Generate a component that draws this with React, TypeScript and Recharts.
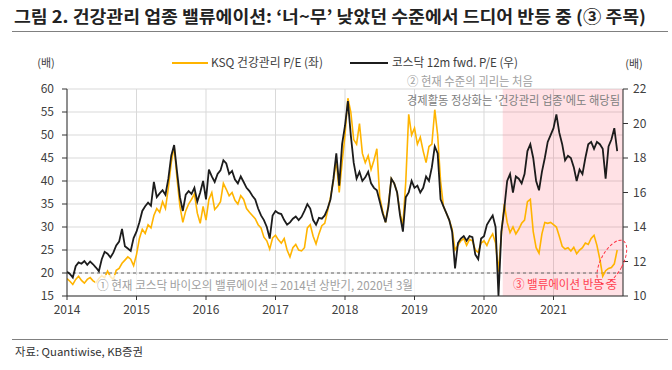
import React from "react";
import {
  LineChart,
  Line,
  XAxis,
  YAxis,
  CartesianGrid,
  ReferenceLine,
  ReferenceArea,
  ReferenceDot,
} from "recharts";

// Half-monthly readings, KSQ health care P/E (left axis)
const ksq2014 = [18.8, 18.2, 17.5, 18.6, 19.3, 18.4, 17.8, 18.6, 19.0, 18.3, 17.9, 18.8, 19.4, 19.0, 20.4, 19.2, 18.6, 20.6, 21.0, 22.1, 22.8, 23.5, 23.0, 21.6];
const ksq2015 = [24.0, 27.5, 29.5, 28.6, 30.5, 29.8, 32.5, 34.0, 33.2, 35.5, 34.0, 38.5, 44.0, 47.5, 40.5, 34.5, 31.0, 33.5, 35.0, 36.0, 37.2, 33.0, 30.8, 34.5];
const ksq2016 = [31.5, 36.0, 37.5, 33.8, 34.5, 35.5, 39.5, 38.2, 36.8, 37.5, 35.8, 35.0, 36.8, 36.0, 34.0, 33.2, 32.5, 31.8, 30.5, 29.8, 27.8, 27.0, 25.2, 27.6];
const ksq2017 = [28.2, 27.2, 26.5, 27.5, 25.0, 23.5, 25.5, 26.2, 25.0, 24.8, 25.5, 29.8, 30.5, 28.0, 26.3, 28.5, 30.3, 30.8, 33.5, 36.5, 40.0, 44.5, 37.5, 44.0];
const ksq2018 = [50.0, 58.0, 55.0, 49.0, 48.0, 52.5, 46.0, 44.0, 45.5, 42.5, 44.5, 47.0, 36.5, 33.5, 31.0, 35.0, 40.5, 39.5, 37.5, 33.0, 30.5, 40.0, 54.5, 50.0];
const ksq2019 = [51.5, 48.0, 49.5, 46.5, 44.0, 47.5, 48.0, 55.5, 50.0, 40.0, 34.5, 33.0, 31.5, 29.5, 25.0, 26.0, 27.0, 27.5, 26.0, 27.3, 27.0, 25.0, 24.5, 26.5];
const ksq2020 = [27.0, 26.0, 27.5, 28.5, 26.5, 20.3, 28.5, 35.0, 31.0, 28.8, 30.0, 28.5, 29.5, 30.8, 31.5, 35.5, 36.0, 29.0, 25.5, 24.3, 28.5, 31.0, 30.8, 31.0];
const ksq2021 = [30.5, 30.0, 28.0, 25.8, 25.2, 25.5, 24.8, 25.6, 24.2, 25.0, 25.5, 26.5, 26.2, 27.5, 28.2, 26.0, 23.0, 19.3, 20.5, 21.0, 21.2, 22.0, 25.0];

// Half-monthly readings, KOSDAQ 12m fwd P/E (right axis)
const kq2014 = [11.41, 11.28, 11.07, 11.73, 11.95, 11.87, 12.03, 11.81, 12.0, 11.84, 11.65, 11.44, 12.13, 12.56, 12.45, 12.24, 12.51, 12.93, 13.15, 13.89, 12.88, 12.75, 12.61, 13.36];
const kq2015 = [13.73, 14.27, 14.93, 15.2, 15.41, 15.23, 16.61, 15.73, 15.95, 16.13, 15.87, 16.8, 18.13, 18.75, 17.2, 15.73, 14.93, 15.87, 16.08, 15.92, 16.27, 15.47, 16.0, 16.67];
const kq2016 = [15.6, 17.33, 16.93, 16.61, 17.07, 17.28, 17.87, 17.68, 17.07, 17.25, 16.75, 16.53, 16.93, 16.61, 16.27, 16.08, 15.81, 15.6, 15.07, 14.67, 14.4, 14.0, 13.33, 14.67];
const kq2017 = [14.93, 14.8, 14.75, 14.4, 14.13, 14.27, 14.48, 14.61, 14.4, 14.59, 14.93, 15.33, 15.07, 14.4, 14.13, 14.53, 14.48, 14.67, 15.07, 15.6, 16.8, 18.27, 16.4, 18.8];
const kq2018 = [19.87, 21.3, 19.33, 17.73, 16.8, 17.2, 16.67, 16.88, 17.2, 16.53, 16.27, 16.13, 15.47, 14.8, 14.27, 15.2, 16.8, 16.53, 16.0, 14.67, 13.73, 15.73, 16.0, 16.67];
const kq2019 = [16.27, 16.4, 16.0, 16.27, 16.93, 16.67, 17.47, 18.67, 18.27, 15.6, 15.2, 14.8, 14.4, 13.73, 11.6, 13.07, 13.33, 13.47, 13.2, 13.47, 13.41, 12.4, 12.13, 13.33];
const kq2020 = [13.47, 14.13, 14.4, 14.67, 14.0, 10.0, 13.73, 15.07, 16.67, 17.07, 16.0, 16.93, 16.8, 16.53, 17.07, 18.4, 18.8, 18.0, 16.67, 16.13, 17.2, 18.0, 18.93, 19.33];
const kq2021 = [19.73, 20.53, 19.47, 18.8, 17.87, 18.13, 18.0, 17.47, 16.67, 17.33, 17.07, 18.0, 18.8, 18.93, 18.53, 18.93, 18.8, 18.53, 16.8, 18.67, 19.07, 19.73, 18.4];

const years = [2014, 2015, 2016, 2017, 2018, 2019, 2020, 2021];
const ksqByYear = [ksq2014, ksq2015, ksq2016, ksq2017, ksq2018, ksq2019, ksq2020, ksq2021];
const kqByYear = [kq2014, kq2015, kq2016, kq2017, kq2018, kq2019, kq2020, kq2021];
const leftTicks = [15, 20, 25, 30, 35, 40, 45, 50, 55, 60];
const rightTicks = [10, 12, 14, 16, 18, 20, 22];

const data: { t: number; ksq: number; kq: number }[] = [];
years.forEach((y, yi) => {
  ksqByYear[yi].forEach((v, k) => {
    data.push({ t: y + k / 24, ksq: v, kq: kqByYear[yi][k] });
  });
});

const FONT = "'Noto Sans CJK KR', 'Noto Sans', sans-serif";

const EllipseShape = (props: any) => {
  const { cx, cy } = props;
  if (cx == null || cy == null) return null;
  return (
    <ellipse
      cx={cx}
      cy={cy}
      rx={11}
      ry={24}
      transform={`rotate(28 ${cx} ${cy})`}
      fill="none"
      stroke="#ff3040"
      strokeWidth={1}
      strokeDasharray="3 2"
    />
  );
};

export default function App() {
  return (
    <div
      style={{
        position: "absolute",
        left: 0,
        top: 0,
        width: 672,
        height: 370,
        background: "#fff",
        fontFamily: FONT,
      }}
    >
      <LineChart
        width={672}
        height={370}
        data={data}
        margin={{ top: 89, right: 9, bottom: 44, left: 27 }}
      >
        <CartesianGrid stroke="#d9d9d9" strokeWidth={1} yAxisId="left" />
        <ReferenceArea
          yAxisId="left"
          x1={2020.27}
          x2={2022}
          y1={15}
          y2={60}
          fill="#ff5a6e"
          fillOpacity={0.18}
          stroke="none"
          ifOverflow="visible"
        />
        <XAxis
          dataKey="t"
          type="number"
          domain={[2014, 2022]}
          ticks={years}
          allowDataOverflow
          height={30}
          tickSize={4}
          tickMargin={5}
          stroke="#333"
          tick={{ fontSize: 12, fill: "#404040" }}
        />
        <YAxis
          yAxisId="left"
          domain={[15, 60]}
          ticks={leftTicks}
          width={40}
          tickSize={5}
          tickMargin={8}
          stroke="#333"
          tick={{ fontSize: 12, fill: "#404040" }}
        />
        <YAxis
          yAxisId="right"
          orientation="right"
          domain={[10, 22]}
          ticks={rightTicks}
          width={40}
          tickSize={5}
          tickMargin={5}
          stroke="#333"
          tick={{ fontSize: 12, fill: "#404040" }}
        />
        <ReferenceLine
          yAxisId="left"
          y={20}
          stroke="#666"
          strokeDasharray="3 3"
          strokeWidth={1}
        />
        <Line
          yAxisId="left"
          dataKey="ksq"
          stroke="#ffb400"
          strokeWidth={1.6}
          dot={false}
          type="linear"
          isAnimationActive={false}
        />
        <Line
          yAxisId="right"
          dataKey="kq"
          stroke="#1c1c1c"
          strokeWidth={1.8}
          dot={false}
          type="linear"
          isAnimationActive={false}
        />
        <ReferenceDot
          yAxisId="left"
          x={2021.84}
          y={22.4}
          shape={EllipseShape}
          ifOverflow="visible"
        />
      </LineChart>
      <svg
        width={672}
        height={370}
        style={{ position: "absolute", left: 0, top: 0, pointerEvents: "none", fontFamily: FONT }}
      >
        <text x={14} y={23} fontSize={17} fontWeight="bold" fill="#222" textLength={632} lengthAdjust="spacingAndGlyphs">
          그림 2. 건강관리 업종 밸류에이션: ‘너~무’ 낮았던 수준에서 드디어 반등 중 (③ 주목)
        </text>
        <line x1={12} x2={668} y1={31.5} y2={31.5} stroke="#808080" strokeWidth={1} />
        <text x={46} y={67} fontSize={11} fill="#404040" textAnchor="middle">(배)</text>
        <text x={634} y={68} fontSize={11} fill="#404040" textAnchor="middle">(배)</text>
        <line x1={172} x2={208} y1={63} y2={63} stroke="#ffb400" strokeWidth={2} />
        <text x={211} y={67} fontSize={12} fill="#404040" textLength={112} lengthAdjust="spacingAndGlyphs">KSQ 건강관리 P/E (좌)</text>
        <line x1={350} x2={388} y1={63} y2={63} stroke="#1c1c1c" strokeWidth={2} />
        <text x={392} y={67} fontSize={12} fill="#404040" textLength={126} lengthAdjust="spacingAndGlyphs">코스닥 12m fwd. P/E (우)</text>
        <text x={407} y={86} fontSize={12} fill="#a0a0a0" textLength={126} lengthAdjust="spacingAndGlyphs">② 현재 수준의 괴리는 처음</text>
        <text x={407} y={105} fontSize={12} fill="#808080" textLength={213} lengthAdjust="spacingAndGlyphs">경제활동 정상화는 '건강관리 업종'에도 해당됨</text>
        <rect x={95} y={275} width={321} height={20} fill="#ffffff" fillOpacity={0.75} />
        <text x={97} y={290} fontSize={12} fill="#a0a0a0" textLength={316} lengthAdjust="spacingAndGlyphs">① 현재 코스닥 바이오의 밸류에이션 = 2014년 상반기, 2020년 3월</text>
        <text x={513} y={289} fontSize={12} fill="#ff4050" textLength={104} lengthAdjust="spacingAndGlyphs">③ 밸류에이션 반등 중</text>
        <line x1={12} x2={668} y1={339.5} y2={339.5} stroke="#808080" strokeWidth={1} />
        <text x={15} y={356} fontSize={11} fill="#333" textLength={128} lengthAdjust="spacingAndGlyphs">자료: Quantiwise, KB증권</text>
      </svg>
    </div>
  );
}
